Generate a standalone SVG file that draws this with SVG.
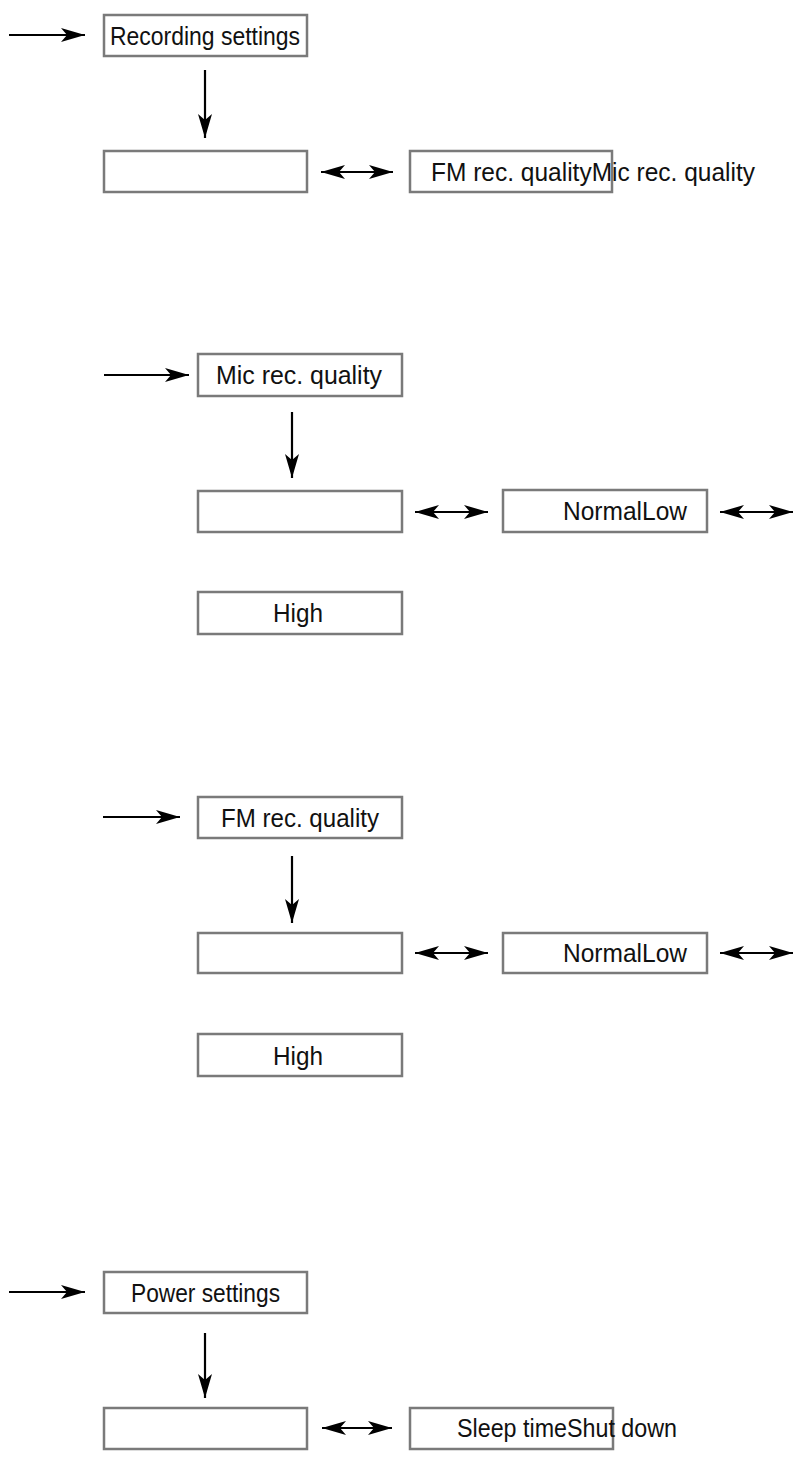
<svg xmlns="http://www.w3.org/2000/svg" width="801" height="1457" viewBox="0 0 801 1457">
<defs>
<marker id="ah" markerUnits="userSpaceOnUse" markerWidth="26" markerHeight="16" refX="24" refY="8" orient="auto-start-reverse">
<path d="M0,1 L24,8 L0,15 L6,8 Z" fill="#000"/>
</marker>
<style>
.box{fill:#fff;stroke:#7a7a7a;stroke-width:2.5}
.lbl{font-family:"Liberation Sans",Arial,sans-serif;font-size:25px;fill:#111}
.ar{stroke:#000;stroke-width:2.2;fill:none;marker-end:url(#ah)}
.dar{stroke:#000;stroke-width:2.2;fill:none;marker-start:url(#ah);marker-end:url(#ah)}
</style>
</defs>
<rect width="801" height="1457" fill="#fff"/>
<g id="connectors">
<line class="ar" x1="9" y1="35" x2="85" y2="35"/>
<line class="ar" x1="205" y1="70" x2="205" y2="138"/>
<line class="dar" x1="321" y1="172" x2="393" y2="172"/>
<line class="ar" x1="104" y1="375" x2="189" y2="375"/>
<line class="ar" x1="292" y1="412" x2="292" y2="478"/>
<line class="dar" x1="415" y1="512" x2="488" y2="512"/>
<line class="dar" x1="720" y1="512" x2="793" y2="512"/>
<line class="ar" x1="103" y1="817" x2="180" y2="817"/>
<line class="ar" x1="292" y1="856" x2="292" y2="923"/>
<line class="dar" x1="415" y1="953" x2="488" y2="953"/>
<line class="dar" x1="720" y1="953" x2="793" y2="953"/>
<line class="ar" x1="9" y1="1292" x2="85" y2="1292"/>
<line class="ar" x1="205" y1="1333" x2="205" y2="1398"/>
<line class="dar" x1="322" y1="1428" x2="392" y2="1428"/>
</g>
<g id="n-recording"><rect class="box" x="104" y="15" width="203" height="41"/><text class="lbl" x="110" y="45" textLength="190" lengthAdjust="spacingAndGlyphs">Recording settings</text></g>
<g id="n-rec-blank"><rect class="box" x="104" y="151" width="203" height="41"/></g>
<g id="n-rec-options"><rect class="box" x="410" y="151" width="202" height="41"/><text class="lbl" x="431" y="181" textLength="324" lengthAdjust="spacingAndGlyphs">FM rec. qualityMic rec. quality</text></g>
<g id="n-mic"><rect class="box" x="198" y="354" width="204" height="42"/><text class="lbl" x="216" y="384" textLength="166" lengthAdjust="spacingAndGlyphs">Mic rec. quality</text></g>
<g id="n-mic-blank"><rect class="box" x="198" y="491" width="204" height="41"/></g>
<g id="n-mic-normallow"><rect class="box" x="503" y="490" width="204" height="42"/><text class="lbl" x="563" y="520" textLength="124" lengthAdjust="spacingAndGlyphs">NormalLow</text></g>
<g id="n-mic-high"><rect class="box" x="198" y="592" width="204" height="42"/><text class="lbl" x="273" y="622" textLength="50" lengthAdjust="spacingAndGlyphs">High</text></g>
<g id="n-fm"><rect class="box" x="198" y="797" width="204" height="41"/><text class="lbl" x="221" y="827" textLength="158" lengthAdjust="spacingAndGlyphs">FM rec. quality</text></g>
<g id="n-fm-blank"><rect class="box" x="198" y="933" width="204" height="40"/></g>
<g id="n-fm-normallow"><rect class="box" x="503" y="933" width="204" height="40"/><text class="lbl" x="563" y="962" textLength="124" lengthAdjust="spacingAndGlyphs">NormalLow</text></g>
<g id="n-fm-high"><rect class="box" x="198" y="1034" width="204" height="42"/><text class="lbl" x="273" y="1065" textLength="50" lengthAdjust="spacingAndGlyphs">High</text></g>
<g id="n-power"><rect class="box" x="104" y="1272" width="203" height="41"/><text class="lbl" x="131" y="1302" textLength="149" lengthAdjust="spacingAndGlyphs">Power settings</text></g>
<g id="n-power-blank"><rect class="box" x="104" y="1408" width="203" height="41"/></g>
<g id="n-power-options"><rect class="box" x="410" y="1408" width="203" height="41"/><text class="lbl" x="457" y="1437" textLength="220" lengthAdjust="spacingAndGlyphs">Sleep timeShut down</text></g>
</svg>
